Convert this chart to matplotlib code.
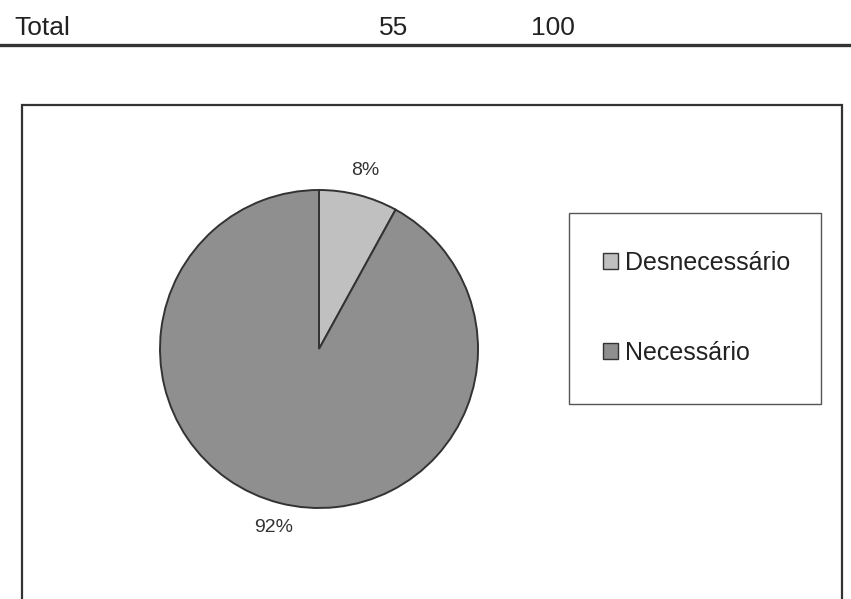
import matplotlib.pyplot as plt
from matplotlib.patches import Rectangle
from matplotlib.lines import Line2D

plt.rcParams['font.family'] = ['Liberation Sans', 'DejaVu Sans']

# linha de total da tabela
tabela_rotulo = "Total"
tabela_freq = "55"
tabela_pct = "100"

# dados do gráfico de setores
categorias = ["Desnecessário", "Necessário"]
percentuais = [8, 92]
cores = ["#c0c0c0", "#8f8f8f"]

W, H = 851, 599
fig = plt.figure(figsize=(W / 100, H / 100), dpi=100)

def px(x, y):
    return x / W, 1 - y / H

# linha da tabela acima do gráfico
fig.text(*px(14, 28), tabela_rotulo, fontsize=19, color="#222222", va="center")
fig.text(*px(379, 28), tabela_freq, fontsize=19, color="#222222", va="center")
fig.text(*px(531, 28), tabela_pct, fontsize=19, color="#222222", va="center")
fig.add_artist(Line2D([0, 1], [1 - 45 / H] * 2, color="#333333", lw=2.4,
                      transform=fig.transFigure))

# moldura do gráfico
fig.add_artist(Rectangle(px(22, 640), (842 - 22) / W, (640 - 105) / H,
                         fill=False, edgecolor="#333333", lw=1.6,
                         transform=fig.transFigure))

# pizza
cx, cy, r = 319, 349, 159
ax = fig.add_axes([(cx - r) / W, (H - cy - r) / H, 2 * r / W, 2 * r / H])
fatias, textos, auto = ax.pie(percentuais, colors=cores, startangle=90,
                              counterclock=False, autopct='%.0f%%',
                              pctdistance=1.16,
                              wedgeprops=dict(edgecolor="#333333", linewidth=1.4),
                              textprops=dict(fontsize=14, color="#333333"))
ax.set_xlim(-1, 1)
ax.set_ylim(-1, 1)
ax.set_aspect("equal")
ax.axis("off")

# caixa da legenda
fig.add_artist(Rectangle(px(569, 404), (821 - 569) / W, (404 - 213) / H,
                         fill=False, edgecolor="#555555", lw=1.0,
                         transform=fig.transFigure))
leg = fig.legend(fatias, categorias, loc="center left",
                 bbox_to_anchor=px(590, 308), frameon=False, fontsize=18,
                 handlelength=0.6, handleheight=0.6, handletextpad=0.3,
                 labelspacing=2.65, borderpad=0, labelcolor="#222222")
for h in leg.legend_handles:
    h.set_edgecolor("#333333")
    h.set_linewidth(1.0)

fig.savefig("out.png", dpi=100)
